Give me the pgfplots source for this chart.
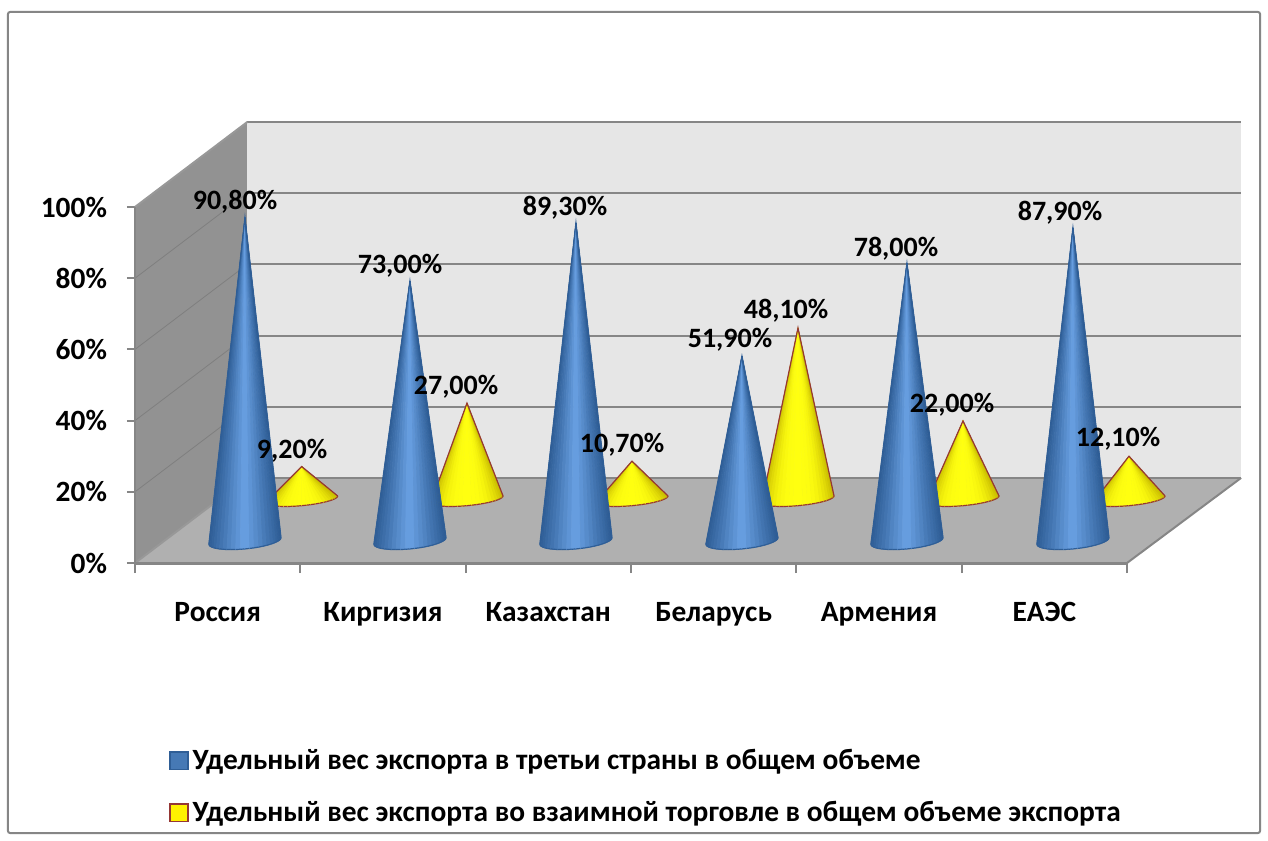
\documentclass[border=0pt]{standalone}
\usepackage{pgfplots}
\pgfplotsset{compat=1.18}
\usepackage{fontspec}
\setmainfont{Carlito}
\definecolor{gridc}{HTML}{868686}
\definecolor{wallc}{HTML}{E6E6E6}
\definecolor{sidec}{HTML}{929292}
\definecolor{floorc}{HTML}{B0B0B0}
\definecolor{bE}{HTML}{2E5D95}
\definecolor{bM}{HTML}{6AA2E5}
\definecolor{yE}{HTML}{C9BC00}
\definecolor{yM}{HTML}{FFFF10}
\definecolor{yline}{HTML}{953735}
\definecolor{bline}{HTML}{2F5E96}
\newcommand\mk[4]{\colorlet{bW#1}{bE!#3!bM}\colorlet{bW#2}{bE!#3!bM}\colorlet{yW#1}{yE!#4!yM}\colorlet{yW#2}{yE!#4!yM}}
\mk{0}{23}{100}{99}\mk{1}{22}{98}{94}\mk{2}{21}{95}{85}\mk{3}{20}{90}{72}
\mk{4}{19}{83}{57}\mk{5}{18}{75}{43}\mk{6}{17}{66}{29}\mk{7}{16}{56}{17}
\mk{8}{15}{44}{9}\mk{9}{14}{32}{3}\mk{10}{13}{20}{1}\mk{11}{12}{7}{0}
% \cone{x of centre}{level of the base}{value}{colour prefix}{outline}{depth of the base ellipse}
\newcommand\cone[6]{%
 \pgfmathsetmacro\apexy{#2+#3}%
 \pgfplotsinvokeforeach{0,...,23}{%
  \pgfmathsetmacro\ax{#1+0.218*cos(180+7.5*##1)}%
  \pgfmathsetmacro\ay{#2+0.927*cos(180+7.5*##1)+#6*sin(180+7.5*##1)}%
  \pgfmathsetmacro\bx{#1+0.218*cos(187.5+7.5*##1)}%
  \pgfmathsetmacro\by{#2+0.927*cos(187.5+7.5*##1)+#6*sin(187.5+7.5*##1)}%
  \addplot[fill=#4##1, draw=#4##1, line width=0.3pt, forget plot] coordinates {(#1,\apexy)(\ax,\ay)(\bx,\by)} -- cycle;
  \addplot[draw=#5, line width=0.6pt, forget plot] coordinates {(\ax,\ay)(\bx,\by)};
 }%
 \pgfmathsetmacro\lx{#1-0.218}\pgfmathsetmacro\ly{#2-0.927}%
 \pgfmathsetmacro\rx{#1+0.218}\pgfmathsetmacro\ry{#2+0.927}%
 \addplot[draw=#5, line width=0.6pt, forget plot] coordinates {(\lx,\ly)(#1,\apexy)(\rx,\ry)};
}
\begin{document}
\begin{tikzpicture}[x=0.5pt,y=0.5pt]
\fill[white] (-135,-277) rectangle (1133,563);
\draw[gridc, line width=1pt, rounded corners=1pt] (-127,-270) rectangle (1125,551);
\begin{axis}[
 at={(0,0)}, anchor=origin, name=ax,
 scale only axis, width=496pt, height=178pt,
 xmin=0, xmax=6, ymin=0, ymax=100, clip=false,
 axis x line=bottom, axis y line=left,
 axis line style={gridc, -},
 tick style={gridc, line width=1pt},
 xtick={0.5,1.5,2.5,3.5,4.5,5.5},
 xticklabels={Россия,Киргизия,Казахстан,Беларусь,Армения,ЕАЭС},
 minor xtick={0,1,2,3,4,5,6},
 major x tick style={draw=none},
 minor tick length=5pt,
 ytick={0,20,40,60,80,100},
 yticklabels={0\%,20\%,40\%,60\%,80\%,100\%},
 tick align=outside, major tick length=4pt,
 ticklabel style={font=\fontsize{14.7}{16}\selectfont\bfseries},
 yticklabel style={xshift=-6.5pt},
 xticklabel style={yshift=-12pt},
 legend cell align=left,
 legend style={draw=none, fill=none, at={(0.034,-0.511)}, anchor=north west,
   font=\fontsize{14.7}{16}\selectfont\bfseries, row sep=10.5pt, inner sep=0pt,
   nodes={inner sep=2pt}},
 legend image code/.code={\draw[#1, line width=0.8pt] (0pt,-4.2pt) rectangle (9pt,4.6pt);},
]
\addlegendimage{fill=bE!60!bM, draw=bline}
\addlegendentry{Удельный вес экспорта в третьи страны в общем объеме}
\addlegendimage{fill=yellow, draw=yline}
\addlegendentry{Удельный вес экспорта во взаимной торговле в общем объеме экспорта}
% walls and floor
\addplot[fill=sidec, draw=none, forget plot] coordinates {(0,0)(0,100)(0.68,123.9)(0.68,23.9)} -- cycle;
\addplot[fill=wallc, draw=none, forget plot] coordinates {(0.68,23.9)(0.68,123.9)(6.69,123.9)(6.69,23.9)} -- cycle;
\addplot[fill=floorc, draw=none, forget plot] coordinates {(0,0)(6,0)(6.69,23.9)(0.68,23.9)} -- cycle;
% grid on the walls
\addplot[gridc!95!black, line width=0.4pt, forget plot] coordinates {(0,20)(0.68,43.9)};
\addplot[gridc!95!black, line width=0.4pt, forget plot] coordinates {(0,40)(0.68,63.9)};
\addplot[gridc!95!black, line width=0.4pt, forget plot] coordinates {(0,60)(0.68,83.9)};
\addplot[gridc!95!black, line width=0.4pt, forget plot] coordinates {(0,80)(0.68,103.9)};
\addplot[gridc, line width=1pt, forget plot] coordinates {(0.68,43.9)(6.69,43.9)};
\addplot[gridc, line width=1pt, forget plot] coordinates {(0.68,63.9)(6.69,63.9)};
\addplot[gridc, line width=1pt, forget plot] coordinates {(0.68,83.9)(6.69,83.9)};
\addplot[gridc, line width=1pt, forget plot] coordinates {(0.68,103.9)(6.69,103.9)};
\addplot[gridc, line width=1.2pt, forget plot] coordinates {(0.68,123.9)(6.69,123.9)};
\addplot[gridc, line width=1.2pt, forget plot] coordinates {(0.68,23.9)(6.69,23.9)};
\addplot[gridc!85!white, line width=1pt, forget plot] coordinates {(0,100)(0.68,123.9)};
\addplot[gridc!85!white, line width=1pt, forget plot] coordinates {(0,0)(0.68,23.9)};
\addplot[gridc, line width=1pt, forget plot] coordinates {(0,0)(0,100)};
\addplot[gridc, line width=1.5pt, forget plot] coordinates {(0,0)(6,0)};
\addplot[gridc, line width=1pt, forget plot] coordinates {(6,0)(6.69,23.9)};
% yellow cones: x, base, value
\cone{1.008}{17.9}{9.2}{yW}{yline}{1.8}
\cone{2.008}{17.9}{27.0}{yW}{yline}{1.8}
\cone{3.006}{17.9}{10.7}{yW}{yline}{1.8}
\cone{4.010}{17.9}{48.1}{yW}{yline}{1.8}
\cone{5.008}{17.9}{22.0}{yW}{yline}{1.8}
\cone{6.012}{17.9}{12.1}{yW}{yline}{1.8}
% blue cones: x, base, value
\cone{0.665}{6.2}{90.8}{bW}{bline}{2.25}
\cone{1.663}{6.2}{73.0}{bW}{bline}{2.25}
\cone{2.667}{6.2}{89.3}{bW}{bline}{2.25}
\cone{3.671}{6.2}{51.9}{bW}{bline}{2.25}
\cone{4.669}{6.2}{78.0}{bW}{bline}{2.25}
\cone{5.673}{6.2}{87.9}{bW}{bline}{2.25}
% data labels
\begin{scope}[every node/.style={font=\fontsize{14}{16}\selectfont\bfseries, inner sep=0pt}]
\node at (axis cs:0.605,101.4) {90,80\%};
\node at (axis cs:1.603,83.6) {73,00\%};
\node at (axis cs:2.601,99.9) {89,30\%};
\node at (axis cs:3.599,62.8) {51,90\%};
\node at (axis cs:4.603,88.3) {78,00\%};
\node at (axis cs:5.595,98.5) {87,90\%};
\node at (axis cs:0.950,31.6) {9,20\%};
\node at (axis cs:1.942,49.6) {27,00\%};
\node at (axis cs:2.946,33.3) {10,70\%};
\node at (axis cs:3.938,70.9) {48,10\%};
\node at (axis cs:4.942,44.5) {22,00\%};
\node at (axis cs:5.946,35.0) {12,10\%};
\end{scope}
\end{axis}
\end{tikzpicture}
\end{document}
